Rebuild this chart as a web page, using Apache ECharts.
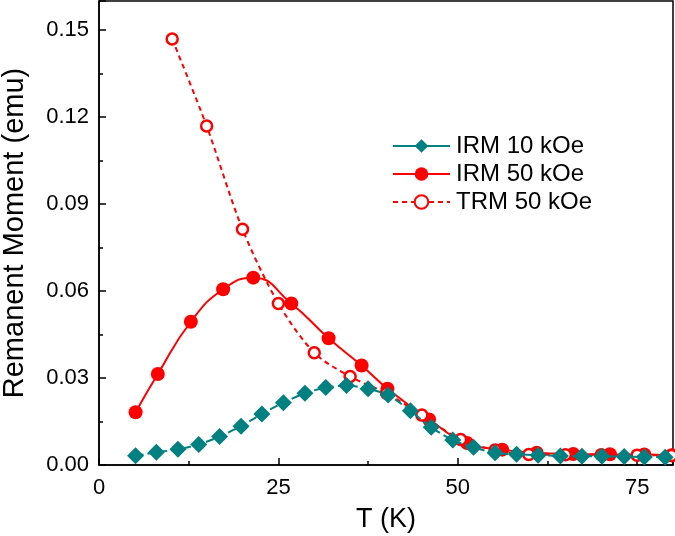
<!DOCTYPE html>
<html><head><meta charset="utf-8">
<script src="https://cdn.jsdelivr.net/npm/echarts@6/dist/echarts.min.js"></script>
<style>html,body{margin:0;padding:0;background:#fff}#c{width:675px;height:536px}</style>
</head><body><div id="c"></div>
<script>
var irm10T = [5.1,8.0,11.0,13.9,16.8,19.8,22.7,25.7,28.7,31.6,34.5,37.5,40.3,43.4,46.3,49.3,52.2,55.2,58.2,61.2,64.3,67.3,70.1,73.2,76.0,78.9];
var irm10M = [0.0032,0.0044,0.0054,0.0071,0.0098,0.0134,0.0176,0.0215,0.0247,0.0267,0.0274,0.0263,0.0241,0.0187,0.0130,0.0086,0.0061,0.0042,0.0037,0.0034,0.0031,0.0030,0.0030,0.0029,0.0028,0.0027];
var irm50T = [5.1,8.2,12.8,17.3,21.5,26.8,32.0,36.6,40.2,46.0,51.3,56.2,61.0,66.1,71.2,76.0,79.8];
var irm50M = [0.0182,0.0314,0.0494,0.0606,0.0646,0.0557,0.0437,0.0343,0.0263,0.0157,0.0076,0.0053,0.0042,0.0038,0.0037,0.0036,0.0034];
var trmT = [10.2,15.0,20.0,25.0,30.0,35.0,40.1,45.0,50.4,55.2,59.9,65.0,70.0,75.0,79.8];
var trmM = [0.1469,0.1169,0.0813,0.0557,0.0387,0.0305,0.0247,0.0172,0.0088,0.0052,0.0036,0.0035,0.0035,0.0034,0.0033];
var names = ['IRM 10 kOe','IRM 50 kOe','TRM 50 kOe'];
var xTicks = [0,25,50,75];
var yTicks = [0,0.03,0.06,0.09,0.12,0.15];

function zip(a,b){return a.map(function(v,i){return [v,b[i]];});}
var TEAL='#008080', RED='#ff0000';
var font='"Liberation Sans", Arial, sans-serif';
var chart = echarts.init(document.getElementById('c'));
chart.setOption({
  animation:false,
  backgroundColor:'#fff',
  grid:{left:99,right:2,top:1,bottom:71,show:true,borderColor:'#000',borderWidth:1.5,
    backgroundColor:'transparent',containLabel:false,outerBoundsMode:'none'},
  legend:{
    orient:'vertical', left:387, top:129, itemGap:4, itemWidth:57, itemHeight:17,
    textStyle:{fontFamily:font,fontSize:24,color:'#000',padding:[0,0,0,1]},
    data:[{name:names[0],lineStyle:{type:'solid'}},names[1],names[2]]
  },
  xAxis:{
    type:'value', min:0, max:80, interval:25,
    name:'T (K)', nameLocation:'middle', nameGap:41,
    nameTextStyle:{fontFamily:font,fontSize:27,color:'#000'},
    axisLine:{show:true,onZero:false,lineStyle:{color:'#000',width:1.5}},
    axisTick:{inside:true,length:7,lineStyle:{color:'#000',width:1.5}},
    minorTick:{show:true,splitNumber:2,length:4,lineStyle:{color:'#000',width:1.5}},
    axisLabel:{fontFamily:font,fontSize:22,color:'#000',margin:12,
      formatter:function(v){return xTicks.indexOf(v)>=0?String(v):'';}},
    splitLine:{show:false}
  },
  yAxis:{
    type:'value', min:0, max:0.16, interval:0.03,
    name:'Remanent Moment (emu)', nameLocation:'middle', nameGap:70,
    nameTextStyle:{fontFamily:font,fontSize:29,color:'#000'},
    axisLine:{show:true,lineStyle:{color:'#000',width:1.5}},
    axisTick:{inside:true,length:7,lineStyle:{color:'#000',width:1.5}},
    minorTick:{show:true,splitNumber:2,length:4,lineStyle:{color:'#000',width:1.5}},
    axisLabel:{fontFamily:font,fontSize:22,color:'#000',margin:10,
      formatter:function(v){
        for(var i=0;i<yTicks.length;i++){if(Math.abs(yTicks[i]-v)<1e-9)return v.toFixed(2);}
        return '';}},
    splitLine:{show:false}
  },
  series:[
    {name:names[0],type:'line',data:zip(irm10T,irm10M),smooth:0.3,
      symbol:'diamond',symbolSize:17,
      itemStyle:{color:TEAL},lineStyle:{color:TEAL,width:2,type:[8,4]},z:3},
    {name:names[1],type:'line',data:zip(irm50T,irm50M),smooth:0.5,
      symbol:'circle',symbolSize:14,
      itemStyle:{color:RED},lineStyle:{color:RED,width:2},z:2},
    {name:names[2],type:'line',data:zip(trmT,trmM),smooth:0.3,
      symbol:'circle',symbolSize:11,
      itemStyle:{color:'#fff',borderColor:RED,borderWidth:2.5},
      lineStyle:{color:RED,width:2,type:[5,4]},z:2}
  ]
});
</script></body></html>
